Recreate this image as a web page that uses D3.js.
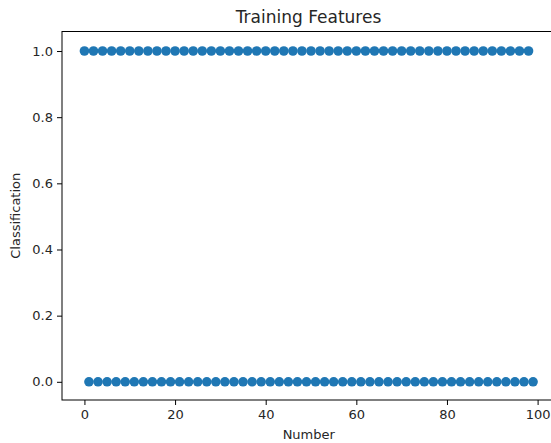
<!DOCTYPE html>
<html>
<head>
<meta charset="utf-8">
<script src="https://cdn.jsdelivr.net/npm/d3@7"></script>
<style>
  body { margin: 0; background: #fff; }
  svg text { font-family: "DejaVu Sans", sans-serif; fill: #262626; }
  .axis path, .axis line { stroke: #000; }
</style>
</head>
<body>
<svg id="chart" width="551" height="443"></svg>
<script>
// samples labelled 1 (top row) and 0 (bottom row)
var classOneX = [0, 2, 4, 6, 8, 10, 12, 14, 16, 18, 20, 22, 24, 26, 28, 30, 32, 34, 36, 38,
    40, 42, 44, 46, 48, 50, 52, 54, 56, 58, 60, 62, 64, 66, 68, 70, 72, 74, 76, 78,
    80, 82, 84, 86, 88, 90, 92, 94, 96, 98];
var classZeroX = [1, 3, 5, 7, 9, 11, 13, 15, 17, 19, 21, 23, 25, 27, 29, 31, 33, 35, 37, 39,
    41, 43, 45, 47, 49, 51, 53, 55, 57, 59, 61, 63, 65, 67, 69, 71, 73, 75, 77, 79,
    81, 83, 85, 87, 89, 91, 93, 95, 97, 99];
var xTicks = [0, 20, 40, 60, 80, 100];
var yTicks = [0.0, 0.2, 0.4, 0.6, 0.8, 1.0];

var points = classOneX.map(function (x) { return {x: x, y: 1}; })
    .concat(classZeroX.map(function (x) { return {x: x, y: 0}; }));

var svg = d3.select("#chart"),
    margin = {top: 31.5, right: -4.5, bottom: 43, left: 62},
    width = 551 - margin.left - margin.right,
    height = 443 - margin.top - margin.bottom,
    g = svg.append("g").attr("transform", "translate(" + margin.left + "," + margin.top + ")");

var x = d3.scaleLinear().domain([-4.95, 103.95]).range([0, width]);
var y = d3.scaleLinear().domain([-0.055, 1.059]).range([height, 0]);

// frame
g.append("rect")
    .attr("x", 0).attr("y", 0)
    .attr("width", width).attr("height", height)
    .attr("fill", "none")
    .attr("stroke", "#000")
    .attr("stroke-width", 1);

g.selectAll(".dot")
    .data(points)
    .enter().append("circle")
    .attr("class", "dot")
    .attr("cx", function (d) { return x(d.x); })
    .attr("cy", function (d) { return y(d.y); })
    .attr("r", 4.8)
    .attr("fill", "#1f77b4");

g.append("g")
    .attr("class", "axis")
    .attr("transform", "translate(0," + height + ")")
    .call(d3.axisBottom(x).tickValues(xTicks).tickSize(5).tickPadding(5)
        .tickFormat(d3.format("d")))
    .call(function (a) { a.select(".domain").remove(); })
    .selectAll("text").style("font-size", "13px");

g.append("g")
    .attr("class", "axis")
    .call(d3.axisLeft(y).tickValues(yTicks).tickSize(5).tickPadding(4)
        .tickFormat(d3.format(".1f")))
    .call(function (a) { a.select(".domain").remove(); })
    .selectAll("text").style("font-size", "13px");

svg.append("text")
    .attr("x", 308.5)
    .attr("y", 22.5)
    .attr("text-anchor", "middle")
    .style("font-size", "17px")
    .text("Training Features");

svg.append("text")
    .attr("x", margin.left + width / 2)
    .attr("y", 439)
    .attr("text-anchor", "middle")
    .style("font-size", "13px")
    .text("Number");

svg.append("text")
    .attr("transform", "translate(20," + (margin.top + height / 2) + ") rotate(-90)")
    .attr("text-anchor", "middle")
    .style("font-size", "13px")
    .text("Classification");
</script>
</body>
</html>
